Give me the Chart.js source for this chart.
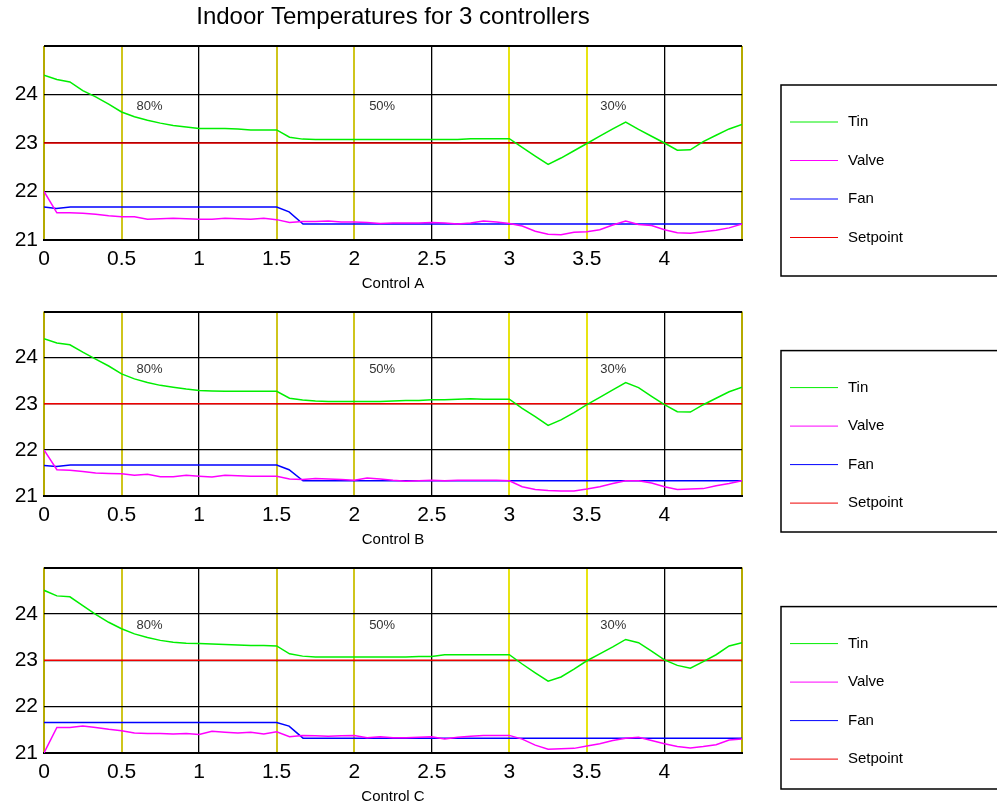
<!DOCTYPE html>
<html>
<head>
<meta charset="utf-8">
<script src="https://cdn.jsdelivr.net/npm/chart.js@4"></script>
<style>
  html, body { margin: 0; padding: 0; background: #fff; overflow: hidden; }
  canvas { position: absolute; left: 0; }
</style>
</head>
<body>
<canvas id="chartA" width="997" height="296" style="top:0px"></canvas>
<canvas id="chartB" width="997" height="259" style="top:293px"></canvas>
<canvas id="chartC" width="997" height="260" style="top:549px"></canvas>
<script>
// time axis (hours), one sample every 5 minutes
const time = [0, 0.083, 0.167, 0.25, 0.333, 0.417, 0.5, 0.583, 0.667, 0.75, 0.833, 0.917, 1,
  1.083, 1.167, 1.25, 1.333, 1.417, 1.5, 1.583, 1.667, 1.75, 1.833, 1.917, 2,
  2.083, 2.167, 2.25, 2.333, 2.417, 2.5, 2.583, 2.667, 2.75, 2.833, 2.917, 3,
  3.083, 3.167, 3.25, 3.333, 3.417, 3.5, 3.583, 3.667, 3.75, 3.833, 3.917, 4,
  4.083, 4.167, 4.25, 4.333, 4.417, 4.5];

const tinA = [24.40, 24.31, 24.26, 24.08, 23.95, 23.80, 23.64, 23.54, 23.47, 23.41, 23.36, 23.33, 23.30,
  23.30, 23.30, 23.29, 23.27, 23.27, 23.27, 23.12, 23.08, 23.07, 23.07, 23.07, 23.07,
  23.07, 23.07, 23.07, 23.07, 23.07, 23.07, 23.07, 23.07, 23.09, 23.09, 23.09, 23.09,
  22.91, 22.73, 22.56, 22.69, 22.84, 22.99, 23.14, 23.29, 23.43, 23.28, 23.14, 23.00,
  22.85, 22.86, 23.03, 23.16, 23.29, 23.38];
const valveA = [22.00, 21.56, 21.56, 21.55, 21.53, 21.50, 21.48, 21.48, 21.43, 21.44, 21.45, 21.44, 21.43,
  21.43, 21.45, 21.44, 21.43, 21.45, 21.42, 21.36, 21.38, 21.38, 21.39, 21.37, 21.37,
  21.36, 21.34, 21.35, 21.35, 21.35, 21.36, 21.35, 21.33, 21.35, 21.39, 21.37, 21.34,
  21.29, 21.18, 21.12, 21.11, 21.16, 21.17, 21.21, 21.31, 21.39, 21.32, 21.30, 21.21,
  21.15, 21.14, 21.17, 21.20, 21.25, 21.33];

const tinB = [24.41, 24.32, 24.28, 24.12, 23.97, 23.82, 23.65, 23.54, 23.46, 23.40, 23.36, 23.32, 23.29,
  23.28, 23.27, 23.27, 23.27, 23.27, 23.27, 23.12, 23.08, 23.06, 23.05, 23.05, 23.05,
  23.05, 23.05, 23.06, 23.07, 23.07, 23.09, 23.09, 23.10, 23.11, 23.10, 23.10, 23.10,
  22.90, 22.72, 22.53, 22.65, 22.81, 22.98, 23.14, 23.30, 23.46, 23.35, 23.16, 22.98,
  22.83, 22.82, 22.98, 23.12, 23.26, 23.36];
const valveB = [22.00, 21.57, 21.56, 21.53, 21.50, 21.49, 21.48, 21.45, 21.47, 21.42, 21.42, 21.45, 21.43,
  21.41, 21.45, 21.44, 21.43, 21.43, 21.43, 21.37, 21.36, 21.38, 21.37, 21.36, 21.34,
  21.39, 21.37, 21.34, 21.32, 21.33, 21.34, 21.33, 21.34, 21.34, 21.34, 21.34, 21.33,
  21.20, 21.14, 21.12, 21.11, 21.11, 21.15, 21.20, 21.27, 21.33, 21.33, 21.28, 21.20,
  21.14, 21.15, 21.16, 21.22, 21.27, 21.33];

const tinC = [24.51, 24.39, 24.37, 24.18, 23.99, 23.82, 23.68, 23.57, 23.49, 23.43, 23.39, 23.37, 23.36,
  23.35, 23.34, 23.33, 23.32, 23.32, 23.31, 23.14, 23.09, 23.07, 23.07, 23.07, 23.07,
  23.07, 23.07, 23.07, 23.07, 23.08, 23.08, 23.12, 23.12, 23.12, 23.12, 23.12, 23.12,
  22.92, 22.73, 22.55, 22.64, 22.81, 22.99, 23.14, 23.29, 23.45, 23.38, 23.20, 23.01,
  22.89, 22.83, 22.97, 23.12, 23.31, 23.38];
const valveC = [21.00, 21.55, 21.55, 21.58, 21.55, 21.51, 21.48, 21.43, 21.42, 21.42, 21.41, 21.42, 21.40,
  21.47, 21.45, 21.43, 21.45, 21.41, 21.46, 21.35, 21.38, 21.37, 21.36, 21.37, 21.38,
  21.33, 21.35, 21.33, 21.33, 21.34, 21.35, 21.30, 21.34, 21.36, 21.38, 21.38, 21.38,
  21.30, 21.17, 21.08, 21.09, 21.10, 21.15, 21.20, 21.27, 21.32, 21.34, 21.27, 21.20,
  21.14, 21.11, 21.14, 21.18, 21.28, 21.30];

// fan only changes around the 1.5 h switch
const fanTime = [0, 0.08, 0.17, 1.5, 1.58, 1.67, 4.5];
const fanA = [21.68, 21.65, 21.68, 21.68, 21.58, 21.33, 21.33];
const fanB = [21.66, 21.64, 21.67, 21.67, 21.57, 21.33, 21.33];
const fanC = [21.66, 21.66, 21.66, 21.66, 21.58, 21.32, 21.32];

const setpointTime = [0, 4.5];
const setpoint = [23, 23];

const seriesNames = ['Tin', 'Valve', 'Fan', 'Setpoint'];
const zoneLabels = ['80%', '50%', '30%'];
const zoneLabelX = [0.68, 2.18, 3.67];
const zoneLabelY = 23.75;
const controlNames = ['Control A', 'Control B', 'Control C'];
const chartTitle = 'Indoor Temperatures for 3 controllers';

const FONT = "'Liberation Sans', Arial, sans-serif";

function pts(xs, ys) {
  return xs.map((x, i) => ({ x: x, y: ys[i] }));
}

function near(a, b) { return Math.abs(a - b) < 1e-6; }

// colours of the vertical lines (zone borders are yellow)
function vLineColor(v) {
  if (near(v, 0) || near(v, 4.5)) return '#b5aa00';
  if (near(v, 0.5) || near(v, 1.5) || near(v, 2)) return '#cfc51c';
  if (near(v, 3) || near(v, 3.5)) return '#e8e412';
  return '#000000';
}

const zoneText = {
  id: 'zoneText',
  afterDatasetsDraw(chart) {
    const { ctx, scales } = chart;
    ctx.save();
    ctx.fillStyle = '#333';
    ctx.font = '13px ' + FONT;
    ctx.textAlign = 'center';
    ctx.textBaseline = 'middle';
    zoneLabels.forEach((txt, i) => {
      ctx.fillText(txt, scales.x.getPixelForValue(zoneLabelX[i]), scales.y.getPixelForValue(zoneLabelY));
    });
    ctx.restore();
  }
};

const legendBox = {
  id: 'legendBox',
  afterDraw(chart) {
    const { ctx, chartArea } = chart;
    const top = chartArea.top + 39;
    const bottom = chartArea.bottom + 36;
    ctx.save();
    ctx.strokeStyle = '#000';
    ctx.lineWidth = 1.5;
    ctx.strokeRect(781, top, 240, bottom - top);
    chart.data.datasets.forEach((ds, i) => {
      const y = top + 37 + i * 38.5;
      ctx.strokeStyle = ds.borderColor;
      ctx.lineWidth = 1;
      ctx.beginPath();
      ctx.moveTo(790, y);
      ctx.lineTo(838, y);
      ctx.stroke();
      ctx.fillStyle = '#000';
      ctx.font = '15px ' + FONT;
      ctx.textBaseline = 'middle';
      ctx.textAlign = 'left';
      ctx.fillText(ds.label, 848, y);
    });
    ctx.restore();
  }
};

function makeChart(id, tin, valve, fan, xLabel, withTitle) {
  const lineOpts = { borderWidth: 1.5, pointRadius: 0, tension: 0, fill: false };
  const scales = {
    x: {
      type: 'linear',
      min: 0,
      max: 4.5,
      afterFit: s => { s.height = 56; },
      ticks: {
        stepSize: 0.5,
        color: '#000',
        padding: 7,
        maxRotation: 0,
        font: { family: FONT, size: 21 },
        callback: v => near(v, 4.5) ? '' : String(v)
      },
      grid: {
        drawTicks: false,
        color: c => vLineColor(c.tick.value),
        lineWidth: c => vLineColor(c.tick.value) === '#000000' ? 1.3 : 2
      },
      border: { display: true, color: '#000', width: 2 },
      title: {
        display: true,
        text: xLabel,
        color: '#000',
        font: { family: FONT, size: 15 },
        padding: { top: 0, bottom: 3 }
      }
    },
    y: {
      min: 21,
      max: 25,
      afterFit: s => { s.width = 44; },
      ticks: {
        stepSize: 1,
        color: '#000',
        padding: 6,
        font: { family: FONT, size: 21 },
        callback: v => near(v, 25) ? '' : String(v)
      },
      grid: {
        drawTicks: false,
        color: '#000',
        lineWidth: c => near(c.tick.value, 25) ? 2 : 1.3
      },
      border: { display: false }
    }
  };
  if (withTitle) {
    // empty top axis, only used to centre the title over the plot area
    scales.top = {
      type: 'linear',
      position: 'top',
      display: true,
      min: 0,
      max: 4.5,
      afterFit: s => { s.height = 46; },
      ticks: { display: false },
      grid: { display: false, drawTicks: false },
      border: { display: false },
      title: {
        display: true,
        text: chartTitle,
        color: '#000',
        font: { family: FONT, size: 24 },
        padding: { top: 3, bottom: 0 }
      }
    };
  }
  new Chart(document.getElementById(id), {
    type: 'line',
    data: {
      datasets: [
        { label: seriesNames[0], data: pts(time, tin), borderColor: '#00ee00', ...lineOpts },
        { label: seriesNames[1], data: pts(time, valve), borderColor: '#ff00ff', ...lineOpts },
        { label: seriesNames[2], data: pts(fanTime, fan), borderColor: '#0000ff', ...lineOpts },
        { label: seriesNames[3], data: pts(setpointTime, setpoint), borderColor: '#ee0000', ...lineOpts }
      ]
    },
    options: {
      responsive: false,
      animation: false,
      layout: { padding: { top: withTitle ? 0 : 10, right: 255, left: 0, bottom: 0 } },
      plugins: {
        legend: { display: false },
        tooltip: { enabled: false },
        title: { display: false }
      },
      scales: scales
    },
    plugins: [zoneText, legendBox]
  });
}

makeChart('chartA', tinA, valveA, fanA, controlNames[0], true);
makeChart('chartB', tinB, valveB, fanB, controlNames[1], false);
makeChart('chartC', tinC, valveC, fanC, controlNames[2], false);
</script>
</body>
</html>
